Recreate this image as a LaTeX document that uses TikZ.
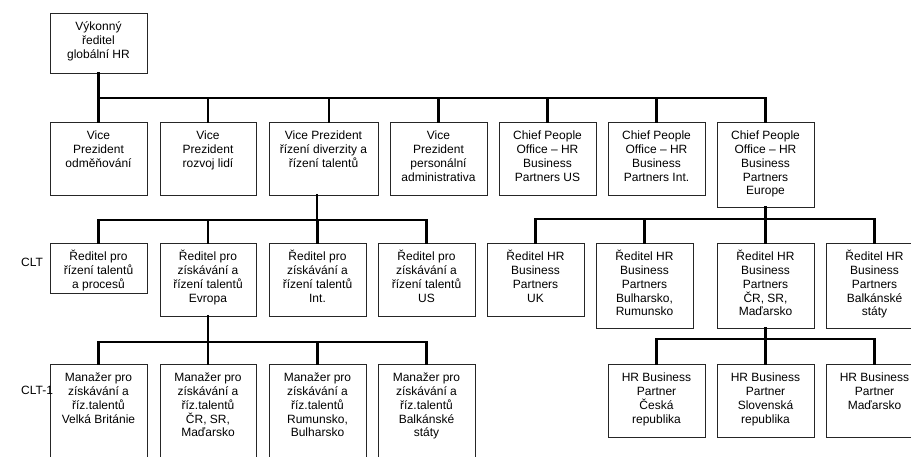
\documentclass[tikz,border=0pt]{standalone}
\usepackage{fontspec}
\setmainfont{Liberation Sans}
\begin{document}
\begin{tikzpicture}[x=1pt,y=-1pt,
  orgbox/.style={draw=black!85,line width=0.9pt,inner sep=0pt,outer sep=0pt,
    font=\fontsize{12}{13.75}\selectfont},
  conn/.style={line width=2.8pt,line cap=rect},
  lvl/.style={inner sep=0pt,anchor=west,font=\fontsize{12}{13.75}\selectfont}]
\newcommand\obox[6]{\node[orgbox,anchor=north west] (#1) at (#2,#3)
  {\parbox[t][#5pt][t]{#4pt}{\centering\rule{0pt}{17.8pt}#6}};}
\useasboundingbox (0,0) rectangle (911,457);
\clip (0,0) rectangle (911,457);
% top
\obox{top}{50}{13}{97}{60}{Výkonný\\ředitel\\globální HR}
% row 2
\obox{v1}{50}{122}{97}{73}{Vice\\Prezident\\odměňování}
\obox{v2}{160}{122}{96}{73}{Vice\\Prezident\\rozvoj lidí}
\obox{v3}{269}{122}{109}{73}{Vice Prezident\\řízení diverzity a\\řízení talentů}
\obox{v4}{390}{122}{97}{73}{Vice\\Prezident\\personální\\administrativa}
\obox{v5}{499}{122}{97}{73}{Chief People\\Office – HR\\Business\\Partners US}
\obox{v6}{608}{122}{97}{73}{Chief People\\Office – HR\\Business\\Partners Int.}
\obox{v7}{717}{122}{97}{85}{Chief People\\Office – HR\\Business\\Partners\\Europe}
% row 3 left
\obox{c1}{50}{243}{97}{50}{Ředitel pro\\řízení talentů\\a procesů}
\obox{c2}{160}{243}{96}{73}{Ředitel pro\\získávání a\\řízení talentů\\Evropa}
\obox{c3}{269}{243}{97}{73}{Ředitel pro\\získávání a\\řízení talentů\\Int.}
\obox{c4}{378}{243}{97}{73}{Ředitel pro\\získávání a\\řízení talentů\\US}
% row 3 right
\obox{d1}{487}{243}{97}{73}{Ředitel HR\\Business\\Partners\\UK}
\obox{d2}{596}{243}{97}{85}{Ředitel HR\\Business\\Partners\\Bulharsko,\\Rumunsko}
\obox{d3}{717}{243}{97}{85}{Ředitel HR\\Business\\Partners\\ČR, SR,\\Maďarsko}
\obox{d4}{826}{243}{97}{85}{Ředitel HR\\Business\\Partners\\Balkánské\\státy}
% row 4 left
\obox{m1}{50}{364}{97}{110}{Manažer pro\\získávání a\\říz.talentů\\Velká Británie}
\obox{m2}{160}{364}{96}{110}{Manažer pro\\získávání a\\říz.talentů\\ČR, SR,\\Maďarsko}
\obox{m3}{269}{364}{97}{110}{Manažer pro\\získávání a\\říz.talentů\\Rumunsko,\\Bulharsko}
\obox{m4}{378}{364}{97}{110}{Manažer pro\\získávání a\\říz.talentů\\Balkánské\\státy}
% row 4 right
\obox{p1}{608}{364}{97}{73}{HR Business\\Partner\\Česká\\republika}
\obox{p2}{717}{364}{97}{73}{HR Business\\Partner\\Slovenská\\republika}
\obox{p3}{826}{364}{97}{73}{HR Business\\Partner\\Maďarsko}
% level labels
\node[lvl] (clt) at (21,262) {CLT};
\node[lvl] (clt1) at (21,390) {CLT-1};
% bus coordinates
\coordinate (b1) at (0,98);
\coordinate (b2) at (0,220);
\coordinate (b3) at (0,219);
\coordinate (b4) at (0,342);
\coordinate (b5) at (0,339);
% connectors level 1
\draw[conn] (top.south) -- (top.south |- b1) -| (v7.north);
\draw[conn] (top.south |- b1) -- (v1.north);
\draw[conn] (v2.north |- b1) -- (v2.north);
\draw[conn] ([xshift=5.5pt]v3.north |- b1) -- ([xshift=5.5pt]v3.north);
\draw[conn] (v4.north |- b1) -- (v4.north);
\draw[conn] (v5.north |- b1) -- (v5.north);
\draw[conn] (v6.north |- b1) -- (v6.north);
% from v3
\draw[conn] ([xshift=-6.5pt]v3.south) -- ([xshift=-6.5pt]v3.south |- b2);
\draw[conn] (c1.north) -- (c1.north |- b2) -| (c4.north);
\draw[conn] (c2.north |- b2) -- (c2.north);
\draw[conn] (c3.north |- b2) -- (c3.north);
% from v7
\draw[conn] (v7.south) -- (v7.south |- b3);
\draw[conn] (d1.north) -- (d1.north |- b3) -| (d4.north);
\draw[conn] (d2.north |- b3) -- (d2.north);
\draw[conn] (d3.north |- b3) -- (d3.north);
% from c2
\draw[conn] (c2.south) -- (c2.south |- b4);
\draw[conn] (m1.north) -- (m1.north |- b4) -| (m4.north);
\draw[conn] (m2.north |- b4) -- (m2.north);
\draw[conn] (m3.north |- b4) -- (m3.north);
% from d3
\draw[conn] (d3.south) -- (d3.south |- b5);
\draw[conn] (p1.north) -- (p1.north |- b5) -| (p3.north);
\draw[conn] (p2.north |- b5) -- (p2.north);
\end{tikzpicture}
\end{document}
